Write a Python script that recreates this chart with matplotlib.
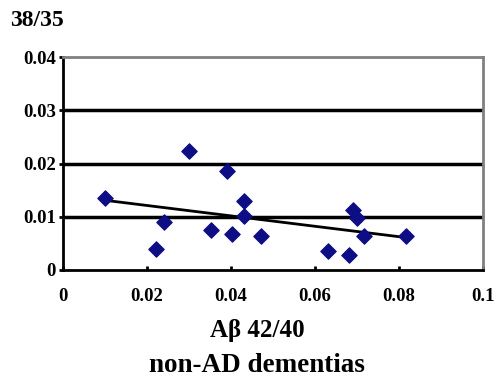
import numpy as np
import matplotlib
matplotlib.use("Agg")
import matplotlib.pyplot as plt

ab42_40 = [0.0100, 0.0221, 0.0240, 0.0300, 0.0352, 0.0391, 0.0403, 0.0430,
           0.0432, 0.0471, 0.0630, 0.0682, 0.0691, 0.0701, 0.0717, 0.0816]
ab38_35 = [0.0135, 0.0039, 0.0091, 0.0224, 0.0075, 0.0186, 0.0067, 0.0130,
           0.0101, 0.0063, 0.0036, 0.0028, 0.0113, 0.0097, 0.0063, 0.0063]
x_ticks = [0, 0.02, 0.04, 0.06, 0.08, 0.1]
x_tick_labels = ["0", "0.02", "0.04", "0.06", "0.08", "0.1"]
y_ticks = [0, 0.01, 0.02, 0.03, 0.04]
y_tick_labels = ["0", "0.01", "0.02", "0.03", "0.04"]

serif = ["Liberation Serif", "DejaVu Serif"]

fig = plt.figure(figsize=(4.96, 3.81), dpi=100)
ax = fig.add_axes([63 / 496, 1 - 270 / 381, 420 / 496, 213 / 381])

x = np.array(ab42_40)
y = np.array(ab38_35)
ax.scatter(x, y, marker="D", s=62, color="#0d0d85", zorder=4, linewidths=0.8,
           edgecolors="#0d0d85")
m, b = np.polyfit(x, y, 1)
xs = np.array([x.min(), x.max()])
ax.plot(xs, m * xs + b, color="black", lw=2, zorder=3)

ax.set_xlim(0, 0.1)
ax.set_ylim(0, 0.04)
for yv in y_ticks[1:-1]:
    ax.axhline(yv, color="black", lw=2.5, zorder=1)

ax.set_xticks(x_ticks)
ax.set_xticklabels(x_tick_labels, fontfamily=serif, fontweight="bold", fontsize=13.5)
ax.set_yticks(y_ticks)
ax.set_yticklabels(y_tick_labels, fontfamily=serif, fontweight="bold", fontsize=13.5)
ax.tick_params(axis="x", direction="in", length=3, width=2, pad=13)
ax.tick_params(axis="y", direction="out", length=3, width=2, pad=2)

for s in ["left", "bottom"]:
    ax.spines[s].set_color("black")
    ax.spines[s].set_linewidth(2)
for s in ["top", "right"]:
    ax.spines[s].set_color("#808080")
    ax.spines[s].set_linewidth(2)

fig.text(10 / 496, 1 - 21 / 381, "38/35", fontfamily=serif, fontweight="bold",
         fontsize=17, ha="left", va="center")
fig.text(257 / 496, 1 - 330 / 381, "A\u03b2 42/40", fontfamily=serif, fontweight="bold",
         fontsize=18, ha="center", va="center")
fig.text(257 / 496, 1 - 366 / 381, "non-AD dementias", fontfamily=serif, fontweight="bold",
         fontsize=19.5, ha="center", va="center")

fig.savefig("out.png", dpi=100)
